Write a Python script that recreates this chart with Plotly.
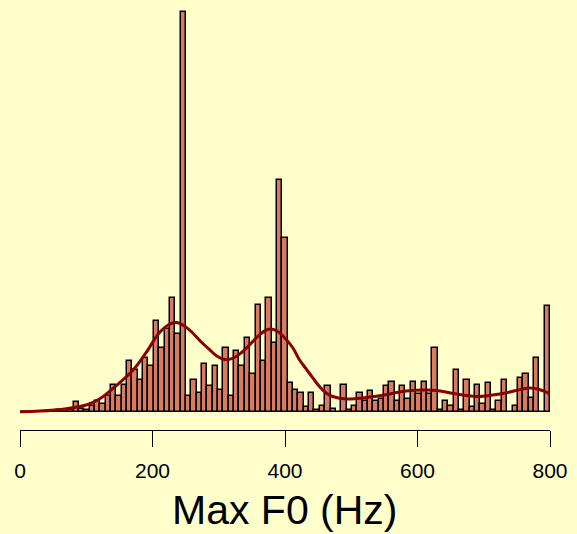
import plotly.graph_objects as go

# ---- data ----
n_bins = 99
bin_width = 800 / n_bins
bin_counts = [
    0, 0, 0, 0, 0, 0, 0, 1, 1, 1,
    6, 2, 1, 4, 7, 5, 10, 17, 10, 17,
    32, 26, 20, 34, 29, 57, 40, 52, 71, 49,
    250, 10, 20, 12, 30, 16, 29, 14, 40, 10,
    38, 29, 46, 24, 67, 32, 71, 43, 145, 109,
    18, 14, 12, 3, 12, 1, 4, 16, 2, 0,
    17, 1, 4, 12, 7, 13, 7, 8, 16, 19,
    7, 16, 8, 19, 11, 19, 11, 40, 1, 7,
    4, 26, 1, 20, 3, 17, 5, 18, 1, 7,
    20, 0, 4, 21, 24, 9, 34, 0, 66,
]
bin_centers = [(k + 0.5) * bin_width for k in range(n_bins)]

density_x = [0, 30, 70, 100, 120, 145, 170, 190, 210, 225, 236, 248, 260, 272,
             285, 297, 309, 320, 332, 345, 358, 370, 378, 388, 397, 412, 422,
             432, 442, 452, 462, 472, 493, 523, 553, 583, 613, 634, 654, 689,
             729, 769, 784, 800]
density_y = [0.2, 0.6, 2.1, 4.4, 8.1, 16.3, 25.9, 36.9, 49.4, 54.7, 55.9, 53.8,
             49.7, 44.4, 39.4, 35.0, 32.8, 33.4, 36.3, 41.3, 46.9, 50.9, 51.9,
             50.6, 47.5, 40.0, 32.5, 26.9, 21.3, 15.9, 11.9, 9.7, 8.1, 9.1,
             10.9, 13.1, 13.8, 13.1, 11.6, 9.7, 11.6, 15.0, 14.1, 11.3]

tick_vals = [0, 200, 400, 600, 800]
x_title = "Max F0 (Hz)"

BG = "#FFFFCC"
FONT = "Liberation Sans, Arial, sans-serif"

fig = go.Figure()
fig.add_trace(go.Bar(
    x=bin_centers, y=bin_counts, width=bin_width,
    marker=dict(color="#D97A62", line=dict(color="black", width=1.5)),
    hoverinfo="skip",
))
fig.add_trace(go.Scatter(
    x=density_x, y=density_y, mode="lines",
    line=dict(color="#8B0000", width=3, shape="spline", smoothing=1.0),
    hoverinfo="skip",
))

fig.update_layout(
    width=577, height=534,
    paper_bgcolor=BG, plot_bgcolor=BG,
    margin=dict(l=20, r=27, t=0, b=104),
    showlegend=False,
    bargap=0,
    font=dict(family=FONT, color="black"),
    xaxis=dict(
        range=[0, 800], tickvals=tick_vals, ticktext=[str(v) for v in tick_vals],
        showline=True, linecolor="black", linewidth=1.3,
        ticks="outside", ticklen=16, tickwidth=1.3, tickcolor="black",
        tickfont=dict(size=21, family=FONT, color="black"),
        showgrid=False, zeroline=False, ticklabelstandoff=6,
    ),
    yaxis=dict(range=[-11.25, 257.5], visible=False, showgrid=False, zeroline=False),
    annotations=[dict(
        text=x_title, xref="paper", yref="paper", x=0.5, y=-0.186,
        xanchor="center", yanchor="middle", showarrow=False,
        font=dict(size=41, family=FONT, color="black"),
    )],
)

fig.write_html("out.html")
